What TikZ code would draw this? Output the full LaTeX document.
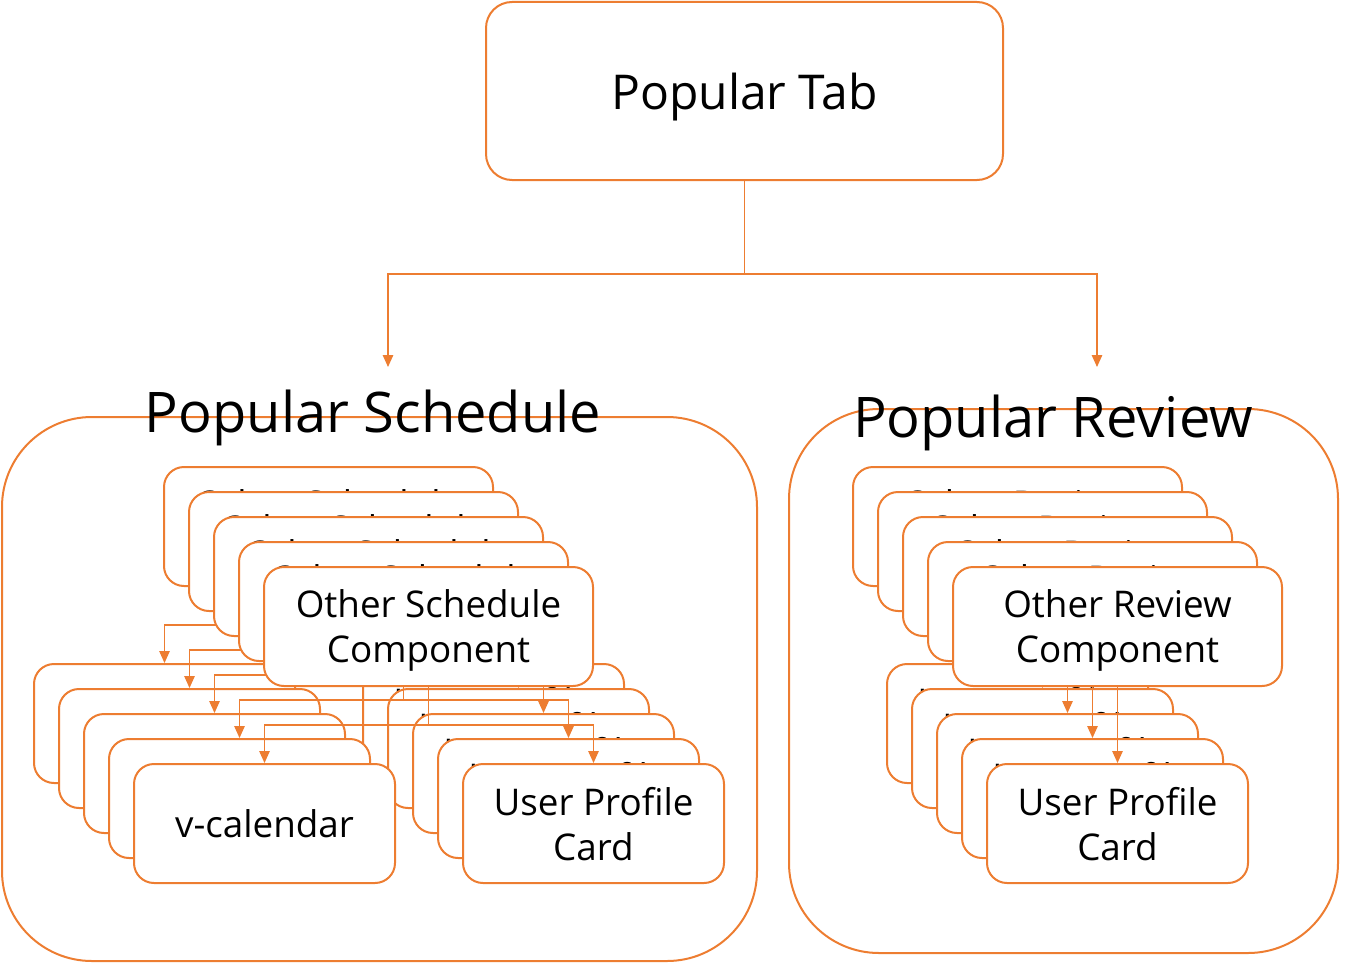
\documentclass[tikz,border=0pt]{standalone}
\usepackage{fontspec}
\setmainfont{Open Sans}
\usetikzlibrary{arrows.meta,calc,positioning}
\definecolor{orng}{HTML}{ED7D31}
\pgfdeclarelayer{back}
\pgfdeclarelayer{links}
\pgfsetlayers{back,links,main}
\tikzset{
  grp/.style={draw=orng,line width=2pt,rounded corners=90pt},
  grptitle/.style={inner sep=0pt,font=\fontsize{56}{68}\selectfont},
  tabbox/.style={draw=orng,line width=2pt,fill=white,rounded corners=26pt,minimum width=517pt,minimum height=178pt,inner sep=0pt,text depth=0pt,font=\fontsize{48}{58}\selectfont},
  card/.style={draw=orng,line width=2pt,fill=white,rounded corners=20pt,inner sep=0pt,align=center,text depth=0pt,font=\fontsize{36.8}{45}\selectfont},
  widecard/.style={card,minimum width=329pt,minimum height=119pt},
  smallcard/.style={card,minimum width=261pt,minimum height=119pt},
  link/.style={orng,line width=1.3pt,-{Triangle[length=12pt,width=10.5pt]}},
  elbow/.style={to path={|- ($(\tikztostart)!0.5!(\tikztotarget)$) -| (\tikztotarget)}},
}
\begin{document}
\begin{tikzpicture}[x=1pt,y=-1pt]
  \useasboundingbox (0,0) rectangle (1356,963);
  % ---------- top ----------
  \node[tabbox] (tab) at (744.5,91) {Popular Tab};
  \coordinate (schedIn) at (388,367);
  \coordinate (revIn) at (1097,367);
  \draw[link] (tab.south) to[elbow] (schedIn);
  \draw[link] (tab.south) to[elbow] (revIn);
  % ---------- the two groups ----------
  \begin{pgfonlayer}{back}
    \draw[grp] (2,417) rectangle (757,961);
    \draw[grp] (789,409) rectangle (1338,953);
  \end{pgfonlayer}
  \node[grptitle,anchor=base] (schedT) at (373,432) {Popular Schedule};
  \node[grptitle,anchor=base] (revT) at (1053,437) {Popular Review};
  % ---------- stacked cards ----------
  \begin{pgfonlayer}{back}
    \foreach \i in {0,...,4} \node[smallcard] (prof\i) at ({493.5+25*\i},{723.5+25*\i}) {User Profile\\Card};
    \foreach \i in {0,...,4} \node[smallcard] (cal\i) at ({164.5+25*\i},{723.5+25*\i}) {v-calendar};
    \foreach \i in {0,...,4} \node[smallcard] (rprof\i) at ({1017.5+25*\i},{723.5+25*\i}) {User Profile\\Card};
  \end{pgfonlayer}
  \foreach \i in {0,...,4} \node[widecard] (sched\i) at ({328.5+25*\i},{526.5+25*\i}) {Other Schedule\\Component};
  \foreach \i in {0,...,4} \node[widecard] (rev\i) at ({1017.5+25*\i},{526.5+25*\i}) {Other Review\\Component};
  % ---------- links ----------
  \begin{pgfonlayer}{links}
    \foreach \i in {0,...,4}{
      \draw[link] (sched\i.south) to[elbow] (cal\i.north);
      \draw[link] (sched\i.south) to[elbow] (prof\i.north);
      \draw[link] (rev\i.south) to[elbow] (rprof\i.north);
    }
  \end{pgfonlayer}
\end{tikzpicture}
\end{document}
